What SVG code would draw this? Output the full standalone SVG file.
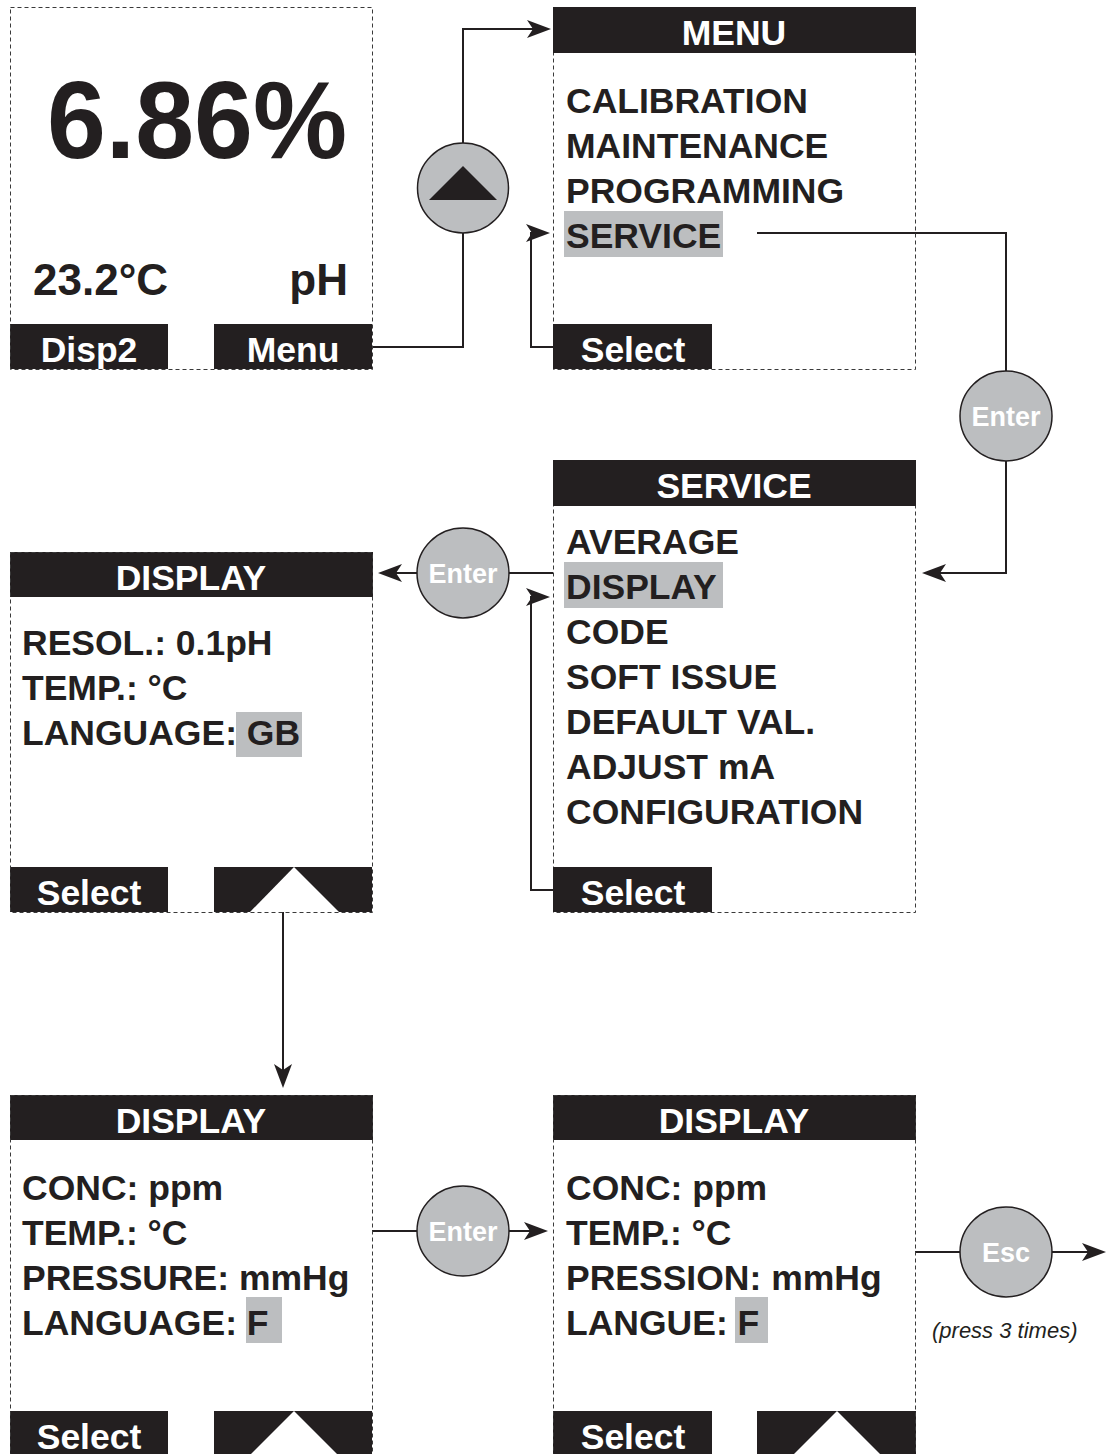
<svg xmlns="http://www.w3.org/2000/svg" width="1108" height="1454" viewBox="0 0 1108 1454">
<style>
.scr{fill:none;stroke:#3a3a3a;stroke-width:1;stroke-dasharray:4 3}
.bar{fill:#231f20}
.hl{fill:#bcbec0}
.t{font-family:"Liberation Sans",Arial,sans-serif;font-weight:bold;fill:#231f20;font-size:35.5px}
.w{fill:#fff}
.c{text-anchor:middle}
.btn{fill:#bcbec0;stroke:#231f20;stroke-width:1.5}
.bt{font-family:"Liberation Sans",Arial,sans-serif;font-weight:bold;fill:#fff;font-size:27px;text-anchor:middle}
.ln{fill:none;stroke:#231f20;stroke-width:2}
.note{font-family:"Liberation Sans",Arial,sans-serif;font-style:italic;fill:#231f20;font-size:22px}
</style>
<defs>
<marker id="ah" markerUnits="userSpaceOnUse" markerWidth="24" markerHeight="18" viewBox="0 0 24 18" refX="20" refY="9" orient="auto">
<path d="M0,0 L24,9 L0,18 L6,9 Z" fill="#231f20"/>
</marker>
</defs>
<rect width="1108" height="1454" fill="#fff"/>

<g id="connectors">
<path class="ln" d="M372,347 H463 V29 H547" marker-end="url(#ah)"/>
<path class="ln" d="M757,233 H1006 V573 H926" marker-end="url(#ah)"/>
<path class="ln" d="M553,347 H531 V233 H546" marker-end="url(#ah)"/>
<path class="ln" d="M553,890 H531 V597 H546" marker-end="url(#ah)"/>
<path class="ln" d="M553,573 H382" marker-end="url(#ah)"/>
<path class="ln" d="M283,912 V1084" marker-end="url(#ah)"/>
<path class="ln" d="M372,1231 H544" marker-end="url(#ah)"/>
<path class="ln" d="M915,1252 H1102" marker-end="url(#ah)"/>
</g>

<g id="screen-main">
<rect class="bar" x="10" y="324" width="158" height="45"/>
<rect class="bar" x="214" y="324" width="158" height="45"/>
<rect class="scr" x="10.5" y="7.5" width="362" height="362"/>
<text class="t c" x="197" y="158" style="font-size:110px" textLength="300" lengthAdjust="spacingAndGlyphs">6.86%</text>
<text class="t" x="33" y="295" style="font-size:44px">23.2°C</text>
<text class="t" x="348" y="295" style="font-size:44px" text-anchor="end">pH</text>
<text class="t w c" x="89" y="362">Disp2</text>
<text class="t w c" x="293" y="362">Menu</text>
</g>

<g id="btn-up">
<ellipse class="btn" cx="463" cy="188" rx="45.5" ry="45"/>
<polygon points="463,166 429,200 497,200" fill="#231f20"/>
</g>

<g id="screen-menu">
<rect class="scr" x="553.5" y="7.5" width="362" height="362"/>
<rect class="bar" x="553" y="7" width="363" height="46"/>
<text class="t w c" x="734" y="45">MENU</text>
<rect class="hl" x="564" y="211" width="159" height="46"/>
<text class="t" x="566" y="113">CALIBRATION</text>
<text class="t" x="566" y="158">MAINTENANCE</text>
<text class="t" x="566" y="203">PROGRAMMING</text>
<text class="t" x="566" y="248">SERVICE</text>
<rect class="bar" x="553" y="324" width="159" height="45"/>
<text class="t w c" x="633" y="362">Select</text>
</g>

<g id="btn-enter-1">
<ellipse class="btn" cx="1006" cy="416" rx="46" ry="45"/>
<text class="bt" x="1006" y="426">Enter</text>
</g>

<g id="screen-service">
<rect class="scr" x="553.5" y="460.5" width="362" height="452"/>
<rect class="bar" x="553" y="460" width="363" height="46"/>
<text class="t w c" x="734" y="498">SERVICE</text>
<rect class="hl" x="564" y="562" width="159" height="46"/>
<text class="t" x="566" y="554">AVERAGE</text>
<text class="t" x="566" y="599">DISPLAY</text>
<text class="t" x="566" y="644">CODE</text>
<text class="t" x="566" y="689">SOFT ISSUE</text>
<text class="t" x="566" y="734">DEFAULT VAL.</text>
<text class="t" x="566" y="779">ADJUST mA</text>
<text class="t" x="566" y="824">CONFIGURATION</text>
<rect class="bar" x="553" y="867" width="159" height="45"/>
<text class="t w c" x="633" y="905">Select</text>
</g>

<g id="btn-enter-2">
<ellipse class="btn" cx="463" cy="573" rx="46" ry="45"/>
<text class="bt" x="463" y="583">Enter</text>
</g>

<g id="screen-display-1">
<rect class="bar" x="10" y="552" width="363" height="45"/>
<text class="t w c" x="191" y="590">DISPLAY</text>
<rect class="hl" x="236" y="712" width="66" height="45"/>
<text class="t" x="22" y="655">RESOL.: 0.1pH</text>
<text class="t" x="22" y="700">TEMP.: °C</text>
<text class="t" x="22" y="745">LANGUAGE: GB</text>
<rect class="bar" x="10" y="867" width="158" height="45"/>
<text class="t w c" x="89" y="905">Select</text>
<rect class="bar" x="214" y="867" width="158" height="45"/>
<polygon points="294,867 250,912 339,912" fill="#fff"/>
<rect class="scr" x="10.5" y="552.5" width="362" height="360"/>
</g>

<g id="screen-display-2">
<rect class="bar" x="10" y="1095" width="363" height="45"/>
<text class="t w c" x="191" y="1133">DISPLAY</text>
<rect class="hl" x="246" y="1297" width="36" height="46"/>
<text class="t" x="22" y="1200">CONC: ppm</text>
<text class="t" x="22" y="1245">TEMP.: °C</text>
<text class="t" x="22" y="1290">PRESSURE: mmHg</text>
<text class="t" x="22" y="1335">LANGUAGE: F</text>
<rect class="bar" x="10" y="1411" width="158" height="45"/>
<text class="t w c" x="89" y="1449">Select</text>
<rect class="bar" x="214" y="1411" width="158" height="45"/>
<polygon points="294,1411 250,1455 338,1455" fill="#fff"/>
<rect class="scr" x="10.5" y="1095.5" width="362" height="400"/>
</g>

<g id="btn-enter-3">
<ellipse class="btn" cx="463" cy="1231" rx="46" ry="45"/>
<text class="bt" x="463" y="1241">Enter</text>
</g>

<g id="screen-display-3">
<rect class="bar" x="553" y="1095" width="363" height="45"/>
<text class="t w c" x="734" y="1133">DISPLAY</text>
<rect class="hl" x="735" y="1297" width="33" height="46"/>
<text class="t" x="566" y="1200">CONC: ppm</text>
<text class="t" x="566" y="1245">TEMP.: °C</text>
<text class="t" x="566" y="1290">PRESSION: mmHg</text>
<text class="t" x="566" y="1335">LANGUE: F</text>
<rect class="bar" x="553" y="1411" width="159" height="45"/>
<text class="t w c" x="633" y="1449">Select</text>
<rect class="bar" x="757" y="1411" width="159" height="45"/>
<polygon points="837,1411 793,1455 881,1455" fill="#fff"/>
<rect class="scr" x="553.5" y="1095.5" width="362" height="400"/>
</g>

<g id="btn-esc">
<ellipse class="btn" cx="1006" cy="1252" rx="46" ry="45"/>
<text class="bt" x="1006" y="1262">Esc</text>
</g>

<text class="note" x="932" y="1338">(press 3 times)</text>
</svg>
